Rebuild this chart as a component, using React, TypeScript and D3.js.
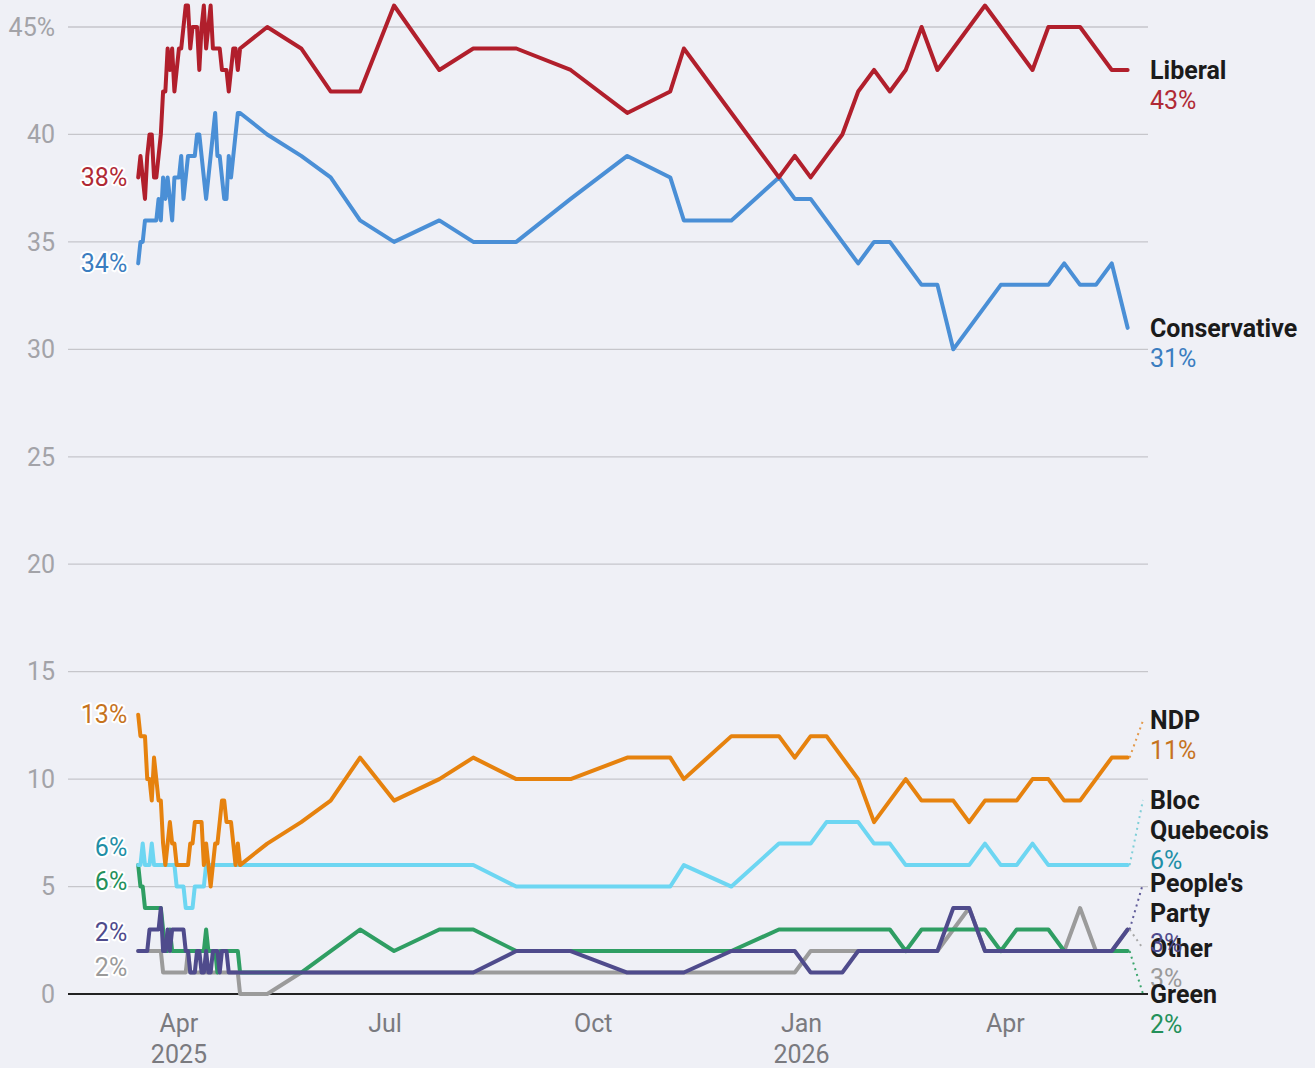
import React from 'react';
import * as d3 from 'd3';

// poll dates: daily campaign tracking, then sparser polling after the election
const pollDates = [
  '2025-03-14','2025-03-15','2025-03-16','2025-03-17','2025-03-18','2025-03-19','2025-03-20','2025-03-21','2025-03-22',
  '2025-03-23','2025-03-24','2025-03-25','2025-03-26','2025-03-27','2025-03-28','2025-03-29','2025-03-30','2025-03-31',
  '2025-04-01','2025-04-02','2025-04-03','2025-04-04','2025-04-05','2025-04-06','2025-04-07','2025-04-08','2025-04-09',
  '2025-04-10','2025-04-11','2025-04-12','2025-04-13','2025-04-14','2025-04-15','2025-04-16','2025-04-17','2025-04-18',
  '2025-04-19','2025-04-20','2025-04-21','2025-04-22','2025-04-23','2025-04-24','2025-04-25','2025-04-26','2025-04-27',
  '2025-04-28',
  '2025-05-10','2025-05-25','2025-06-07','2025-06-20','2025-07-05','2025-07-25','2025-08-09','2025-08-28','2025-09-21',
  '2025-10-16','2025-11-04','2025-11-10','2025-12-01','2025-12-22','2025-12-29','2026-01-05','2026-01-12','2026-01-19',
  '2026-01-26','2026-02-02','2026-02-09','2026-02-16','2026-02-23','2026-03-02','2026-03-09','2026-03-16','2026-03-23',
  '2026-03-30','2026-04-06','2026-04-13','2026-04-20','2026-04-27','2026-05-04','2026-05-11','2026-05-18','2026-05-25',
]

const liberal = [
  38,39,38,37,39,40,40,38,38,39,40,42,42,44,43,44,42,43,
  44,44,45,46,46,44,45,45,45,43,45,46,44,45,46,44,44,44,44,43,43,43,42,43,44,44,43,44,
  45,44,42,42,46,43,44,44,43,41,42,44,41,38,39,38,39,40,42,43,42,43,45,43,44,45,46,45,44,43,45,45,45,44,43,43,
]
const conservative = [
  34,35,35,36,36,36,36,36,36,37,36,38,37,38,37,36,38,38,
  38,39,37,38,39,39,39,39,40,40,39,38,37,38,39,40,41,39,39,38,37,37,39,38,39,40,41,41,
  40,39,38,36,35,36,35,35,37,39,38,36,36,38,37,37,36,35,34,35,35,34,33,33,30,31,32,33,33,33,33,34,33,33,34,31,
]
const ndp = [
  13,12,12,12,10,10,9,11,10,9,9,7,6,7,8,7,7,6,
  6,6,6,6,6,7,7,8,8,8,8,6,7,6,5,6,7,7,8,9,9,8,8,8,7,6,7,6,
  7,8,9,11,9,10,11,10,10,11,11,10,12,12,11,12,12,11,10,8,9,10,9,9,9,8,9,9,9,10,10,9,9,10,11,11,
]
const bloc = [
  6,6,7,6,6,6,7,6,6,6,6,6,6,6,6,6,6,5,
  5,5,5,4,4,4,4,5,5,5,5,5,6,6,6,6,6,6,6,6,6,6,6,6,6,6,6,6,
  6,6,6,6,6,6,6,5,5,5,5,6,5,7,7,7,8,8,8,7,7,6,6,6,6,6,7,6,6,7,6,6,6,6,6,6,
]
const green = [
  6,5,5,4,4,4,4,4,4,4,4,3,2,2,3,2,2,2,
  2,2,2,2,2,2,2,2,2,2,2,2,3,2,2,2,2,1,2,2,2,2,2,2,2,2,2,1,
  1,1,2,3,2,3,3,2,2,2,2,2,2,3,3,3,3,3,3,3,3,2,3,3,3,3,3,2,3,3,3,2,2,2,2,2,
]
const peoples = [
  2,2,2,2,2,3,3,3,3,3,4,2,2,3,2,3,3,3,
  3,3,3,2,2,1,1,1,2,2,1,1,2,1,1,2,2,2,1,2,2,2,1,1,1,1,1,1,
  1,1,1,1,1,1,1,2,2,1,1,1,2,2,2,1,1,1,2,2,2,2,2,2,4,4,2,2,2,2,2,2,2,2,2,3,
]
const other = [
  2,2,2,2,2,2,2,2,2,2,2,1,1,1,1,1,1,1,
  1,1,1,1,2,1,1,1,1,1,1,1,1,1,1,1,1,1,1,1,1,1,1,1,1,1,1,0,
  0,1,1,1,1,1,1,1,1,1,1,1,1,1,1,2,2,2,2,2,2,2,2,2,3,4,2,2,2,2,2,2,4,2,2,3,
]

const yTicks = [0, 5, 10, 15, 20, 25, 30, 35, 40, 45]
const xTicks = ['2025-04-01', '2025-07-01', '2025-10-01', '2026-01-01', '2026-04-01']

// drawing order: bottom first
const parties = [
  { key: 'other', name: ['Other'], values: other, stroke: '#9b9b9b', text: '#9a9a9a', lead: '#a8a8a8' },
  { key: 'green', name: ['Green'], values: green, stroke: '#2f9e63', text: '#23905a', lead: '#3aa56c' },
  { key: 'bloc', name: ['Bloc', 'Quebecois'], values: bloc, stroke: '#6dd6f2', text: '#1f8fa6', lead: '#7fcfd8' },
  { key: 'ppc', name: ["People's", 'Party'], values: peoples, stroke: '#4f4b8c', text: '#4f4b8c', lead: '#5f5b99' },
  { key: 'ndp', name: ['NDP'], values: ndp, stroke: '#e6820e', text: '#c6731e', lead: '#e39a4c' },
  { key: 'con', name: ['Conservative'], values: conservative, stroke: '#4a8fd6', text: '#3b7dc0', lead: '#4a8fd6' },
  { key: 'lib', name: ['Liberal'], values: liberal, stroke: '#b11f2c', text: '#b02a35', lead: '#b11f2c' },
]

// label layout nudges (px) to keep end / start labels apart
const endNudge = { other: 19, green: 43, bloc: -65, ppc: -46, ndp: -37, con: 0, lib: 0 }
const startNudge = { other: 16, green: 16, bloc: -18, ppc: -19, ndp: 0, con: 0, lib: 0 }

const W = 1315
const H = 1068
const FONT = 'Roboto, "Noto Sans", sans-serif'

export default function App() {
  const parse = d3.timeParse('%Y-%m-%d')
  const dates = pollDates.map(d => parse(d) as Date)

  const x = d3.scaleTime()
    .domain([new Date(2025, 1, 11), new Date(2026, 5, 3)])
    .range([68, 1148])
  const y = d3.scaleLinear().domain([0, 45]).range([994, 27])

  const line = d3.line<number>()
    .x((_, i) => x(dates[i]))
    .y(d => y(d))

  const x0 = x(dates[0])
  const x1 = x(dates[dates.length - 1])
  const fmtMonth = d3.timeFormat('%b')

  return (
    <div style={{ position: 'absolute', left: 0, top: 0, width: W, height: H }}>
      <svg width={W} height={H} style={{ display: 'block', background: '#eff0f6' }} fontFamily={FONT}>
        {/* grid */}
        <g>
          {yTicks.map(t => (
            <g key={t}>
              {t !== 0 && (
                <line x1={68} x2={1148} y1={y(t)} y2={y(t)} stroke="#c6c6cb" strokeWidth={1.3} />
              )}
              <text x={55} y={y(t)} dy="0.35em" textAnchor="end" fontSize={25} fill="#a3a3a8">
                {t === 45 ? '45%' : t}
              </text>
            </g>
          ))}
          <line x1={68} x2={1148} y1={y(0)} y2={y(0)} stroke="#222" strokeWidth={2} />
        </g>

        {/* x axis labels */}
        <g>
          {xTicks.map((s, i) => {
            const d = parse(s) as Date
            const showYear = i === 0 || d.getMonth() === 0
            return (
              <g key={s}>
                <text x={x(d)} y={1023} dy="0.35em" textAnchor="middle" fontSize={25} fill="#7a7a7f">
                  {fmtMonth(d)}
                </text>
                {showYear && (
                  <text x={x(d)} y={1054} dy="0.35em" textAnchor="middle" fontSize={25} fill="#7a7a7f">
                    {d.getFullYear()}
                  </text>
                )}
              </g>
            )
          })}
        </g>

        {/* lines */}
        <g fill="none" strokeLinejoin="round" strokeLinecap="round">
          {parties.map(p => (
            <path key={p.key} d={line(p.values) || ''} stroke={p.stroke} strokeWidth={4} />
          ))}
        </g>

        {/* start labels */}
        <g>
          {parties.map(p => (
            <text
              key={p.key}
              x={x0 - 11}
              y={y(p.values[0]) + startNudge[p.key]}
              dy="0.35em"
              textAnchor="end"
              fontSize={25}
              fill={p.text}
              stroke="#fff"
              strokeWidth={4}
              strokeLinejoin="round"
              paintOrder="stroke"
            >
              {p.values[0]}%
            </text>
          ))}
        </g>

        {/* end labels */}
        <g>
          {parties.map(p => {
            const last = p.values[p.values.length - 1]
            const ly = y(last)
            const ny = ly + endNudge[p.key]
            return (
              <g key={p.key}>
                {endNudge[p.key] !== 0 && (
                  <line
                    x1={x1 + 2} y1={ly} x2={1143} y2={ny}
                    stroke={p.lead} strokeWidth={2} strokeDasharray="2,4"
                  />
                )}
                {p.name.map((n, i) => (
                  <text key={n} x={1150} y={ny + i * 30} dy="0.35em" fontSize={25}
                    fontWeight={700} fill="#1b1b1b">
                    {n}
                  </text>
                ))}
                <text x={1150} y={ny + p.name.length * 30} dy="0.35em" fontSize={25} fill={p.text}>
                  {last}%
                </text>
              </g>
            )
          })}
        </g>
      </svg>
    </div>
  )
}
